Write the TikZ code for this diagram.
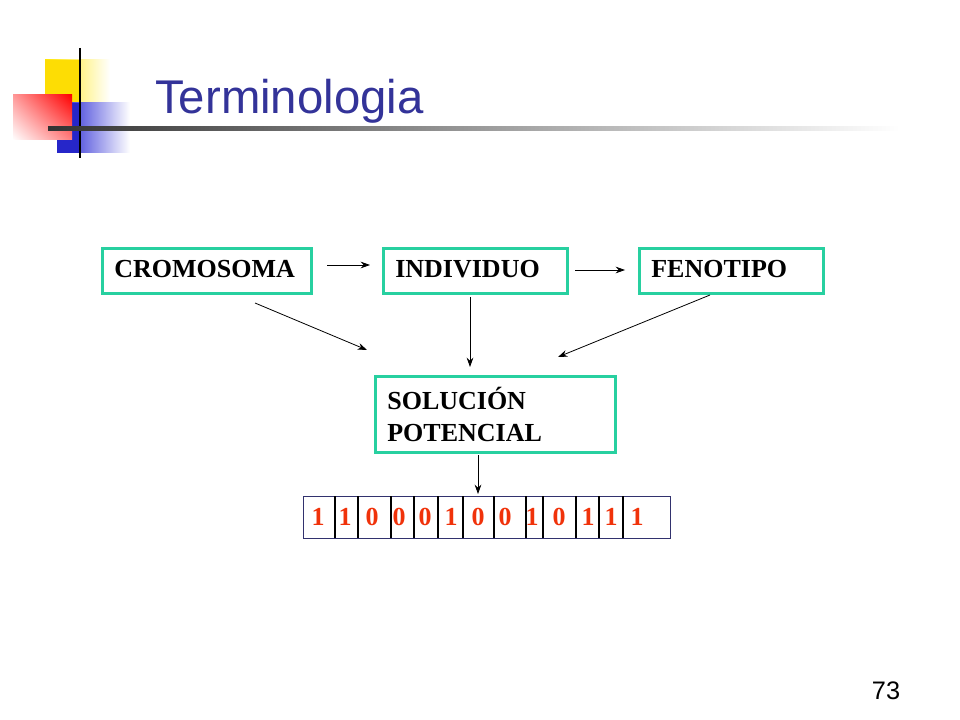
\documentclass[tikz,border=0pt]{standalone}
\usepackage{fontspec}
\setmainfont{Liberation Serif}
\newfontfamily\arialf{Liberation Sans}
\usetikzlibrary{arrows.meta,shadings}
\definecolor{teal1}{RGB}{40,208,160}
\definecolor{ttl}{RGB}{51,51,153}
\definecolor{bitred}{RGB}{240,50,10}
\definecolor{cellb}{RGB}{50,50,110}
\begin{document}
\begin{tikzpicture}[x=0.75pt,y=-0.75pt,
  tbox/.style={draw=teal1,line width=2pt,anchor=north west,inner xsep=9pt,inner ysep=0pt,font=\bfseries\fontsize{19.5}{24}\selectfont,align=left},
  arr/.style={-{Stealth[length=7pt,width=5pt]},line width=0.6pt}]
\useasboundingbox (0,0) rectangle (960,720);
% logo
\shade[left color=yellow!80!orange,right color=white] (45,60) rectangle (110,125);
\fill[yellow!80!orange] (45,60) rectangle (80,125);
\shade[left color=blue!80!black!90,right color=white] (57,103) rectangle (130,153);
\fill[blue!75!black!85] (57,103) rectangle (80,153);
\shade[upper right=red,lower left=white,upper left=red!40,lower right=red!50] (13,95) rectangle (72,140);
\draw[line width=2pt] (80,48) -- (80,158);
\shade[left color=black!80,right color=white] (48,126.5) rectangle (900,130.5);
\node[anchor=base west,inner sep=0pt,text=ttl,font=\arialf\fontsize{35.5}{42}\selectfont] (title) at (155,114) {Terminologia};
% boxes
\node[tbox,minimum width=209*0.75pt,minimum height=45*0.75pt,text width=209*0.75pt-18pt] (cro) at (101,247) {\strut CROMOSOMA};
\node[tbox,minimum width=184*0.75pt,minimum height=45*0.75pt,text width=184*0.75pt-18pt] (ind) at (382,247) {\strut INDIVIDUO};
\node[tbox,minimum width=184*0.75pt,minimum height=45*0.75pt,text width=184*0.75pt-18pt] (fen) at (638,247) {\strut FENOTIPO};
\node[tbox,minimum width=240*0.75pt,minimum height=76*0.75pt,text width=240*0.75pt-18pt] (sol) at (374,375) {SOLUCIÓN\\POTENCIAL};
% arrows
\coordinate (a1) at (327,265); \coordinate (a2) at (370,265);
\coordinate (b1) at (575,270); \coordinate (b2) at (625,270);
\coordinate (c1) at (255,303); \coordinate (c2) at (367,350);
\coordinate (d1) at (470,297); \coordinate (d2) at (470,367);
\coordinate (e1) at (710,295); \coordinate (e2) at (558,357);
\coordinate (f1) at (478,455); \coordinate (f2) at (478,494);
\draw[arr] (a1) -- (a2);
\draw[arr] (b1) -- (b2);
\draw[arr] (c1) -- (c2);
\draw[arr] (d1) -- (d2);
\draw[arr] (e1) -- (e2);
\draw[arr] (f1) -- (f2);
% bit string
\node[draw=cellb,line width=0.8pt,anchor=north west,minimum width=367*0.75pt,minimum height=42*0.75pt,inner sep=0pt] (bits) at (303,496) {};
\foreach \x in {335,358,391,414,438,463,494,526,543,576,599,623}
  \draw[line width=0.8pt] (\x,496) -- (\x,538);
\foreach \x/\b in {318/1,345/1,372/0,399/0,425/0,451/1,478/0,505/0,532/1,559/0,588/1,611/1,637/1}
  \node[text=bitred,font=\bfseries\fontsize{19.5}{24}\selectfont,inner sep=0pt] (bit\x) at (\x,517) {\b};
\node[anchor=base,inner sep=0pt,font=\arialf\fontsize{19}{22}\selectfont] (pg) at (886,699) {73};
\end{tikzpicture}
\end{document}
